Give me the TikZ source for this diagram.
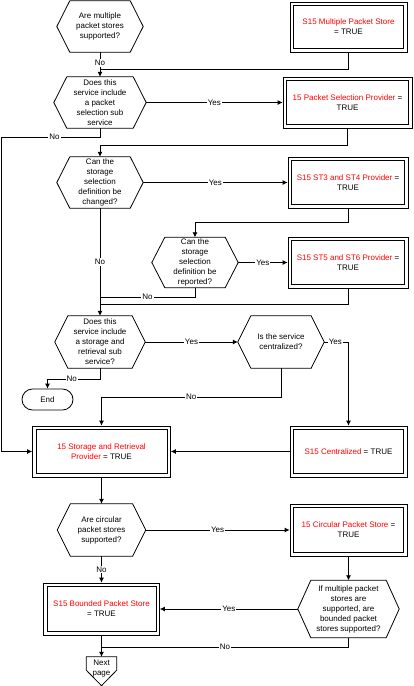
\documentclass[tikz,border=0pt]{standalone}
\usepackage{fontspec}
\setmainfont{Liberation Sans}
\usetikzlibrary{arrows.meta,shapes.misc}
\newcommand\dfont{\fontsize{8}{10}\selectfont}
\newcommand\rt[1]{{\color{red}#1}}
\begin{document}
\begin{tikzpicture}[x=1pt,y=-1pt,
  every node/.style={font=\dfont},
  hexa/.style={shape=rectangle,inner sep=0pt,align=center},
  dbox/.style={shape=rectangle,draw,line width=0.8pt,inner sep=0pt,align=center},
  term/.style={shape=rounded rectangle,draw,line width=0.8pt,minimum width=51pt,minimum height=21pt,inner sep=0pt},
  offpage/.style={shape=rectangle,inner sep=0pt,align=center},
  conn/.style={line width=0.8pt},
  arr/.style={conn,-{Latex[length=5pt,width=5pt]}},
  lbl/.style={fill=white,inner sep=1pt}]
\useasboundingbox (0,0) rectangle (413,686);
% decisions
\node[hexa,minimum width=86pt,minimum height=51pt] (h1) at (100,26.5) {Are multiple\\packet stores\\supported?};
\node[hexa,minimum width=92pt,minimum height=51pt] (h2) at (100,102.5) {Does this\\service include\\a packet\\selection sub\\service};
\node[hexa,minimum width=86pt,minimum height=51pt] (h3) at (100,182.5) {Can the\\storage\\selection\\definition be\\changed?};
\node[hexa,minimum width=86pt,minimum height=50pt] (h4) at (195,262.5) {Can the\\storage\\selection\\definition be\\reported?};
\node[hexa,minimum width=90pt,minimum height=52pt] (h5) at (100,342) {Does this\\service include\\a storage and\\retrieval sub\\service?};
\node[hexa,minimum width=86pt,minimum height=52pt] (h6) at (281,342) {Is the service\\centralized?};
\node[hexa,minimum width=88pt,minimum height=52pt] (h7) at (101.5,530) {Are circular\\packet stores\\supported?};
\node[hexa,minimum width=101pt,minimum height=57pt] (h8) at (348.5,609) {If multiple packet\\stores are\\supported, are\\bounded packet\\stores supported?};
\foreach \n in {h1,h2,h3,h4,h5,h6,h7,h8}{
  \draw[conn] (\n.west) -- ([xshift=13pt]\n.north west) -- ([xshift=-13pt]\n.north east) -- (\n.east) -- ([xshift=-13pt]\n.south east) -- ([xshift=13pt]\n.south west) -- cycle;
}
% processes (outer frame = node, inner frame drawn after)
\node[dbox,minimum width=117pt,minimum height=50pt] (b1) at (348.5,27) {\rt{S15 Multiple Packet Store}\\= TRUE};
\node[dbox,minimum width=129pt,minimum height=51pt] (b2) at (347.5,102.5) {\rt{15 Packet Selection Provider} =\\TRUE};
\node[dbox,minimum width=120pt,minimum height=51pt] (b3) at (348,182.5) {\rt{S15 ST3 and ST4 Provider} =\\TRUE};
\node[dbox,minimum width=120pt,minimum height=51pt] (b4) at (348,262.5) {\rt{S15 ST5 and ST6 Provider} =\\TRUE};
\node[dbox,minimum width=138pt,minimum height=51pt] (bsr) at (101.5,451.5) {\rt{15 Storage and Retrieval}\\\rt{Provider} = TRUE};
\node[dbox,minimum width=117pt,minimum height=51pt] (bc) at (348.5,451.5) {\rt{S15 Centralized} = TRUE};
\node[dbox,minimum width=117pt,minimum height=52pt] (bcirc) at (348.5,530) {\rt{15 Circular Packet Store} =\\TRUE};
\node[dbox,minimum width=116pt,minimum height=52pt] (bb) at (101.5,609) {\rt{S15 Bounded Packet Store}\\= TRUE};
\foreach \n in {b1,b2,b3,b4,bsr,bc,bcirc,bb}{
  \draw[conn] ([shift={(4pt,-4pt)}]\n.north west) rectangle ([shift={(-4pt,4pt)}]\n.south east);
}
% terminals
\node[term] (end) at (47.5,399.5) {End};
\node[offpage,minimum width=30pt,minimum height=23pt] (np) at (101.5,668.5) {Next\\page};
\draw[conn] (np.north west) -- (np.north east) -- ([yshift=10pt]np.south east) -- ([yshift=-5.5pt]np.south) -- ([yshift=10pt]np.south west) -- cycle;
% junction coordinates
\coordinate (j1) at (100,69);
\coordinate (k1) at (1,137);
\coordinate (j2) at (100,145);
\coordinate (j3) at (195,222);
\coordinate (j4) at (100,297);
\coordinate (j5) at (100,304);
\coordinate (j6) at (101.5,397);
\coordinate (j7) at (47.5,379);
\coordinate (j8) at (101.5,647);
% connectors
\draw[arr] (h1.south) -- node[lbl,pos=0.45]{No} (h2.north);
\draw[conn] (b1.south) |- (j1);
\draw[arr] (h2.east) -- node[lbl]{Yes} (b2.west);
\draw[arr] (h2.south) |- node[lbl,pos=0.73]{No} (k1) |- (bsr.west);
\draw[arr] (b2.south) |- (j2) -- (h3.north);
\draw[arr] (h3.east) -- node[lbl]{Yes} (b3.west);
\draw[arr] (b3.south) |- (j3) -- (h4.north);
\draw[arr] (h4.east) -- node[lbl]{Yes} (b4.west);
\draw[conn] (h4.south) |- node[lbl,pos=0.75]{No} (j4);
\draw[conn] (b4.south) |- (j5);
\draw[arr] (h3.south) -- node[lbl]{No} (h5.north);
\draw[arr] (h5.east) -- node[lbl]{Yes} (h6.west);
\draw[arr] (h6.east) -| node[lbl,pos=0.23]{Yes} (bc.north);
\draw[arr] (h6.south) |- node[lbl,pos=0.75]{No} (j6) -- (bsr.north);
\draw[arr] (h5.south) |- node[lbl,pos=0.77]{No} (j7) -- (end.north);
\draw[arr] (bc.west) -- (bsr.east);
\draw[arr] (bsr.south) -- (h7.north);
\draw[arr] (h7.east) -- node[lbl]{Yes} (bcirc.west);
\draw[arr] (bcirc.south) -- (h8.north);
\draw[arr] (h7.south) -- node[lbl]{No} (bb.north);
\draw[arr] (h8.west) -- node[lbl]{Yes} (bb.east);
\draw[conn] (h8.south) |- node[lbl,pos=0.75]{No} (j8);
\draw[arr] (bb.south) -- (np.north);
\end{tikzpicture}
\end{document}
